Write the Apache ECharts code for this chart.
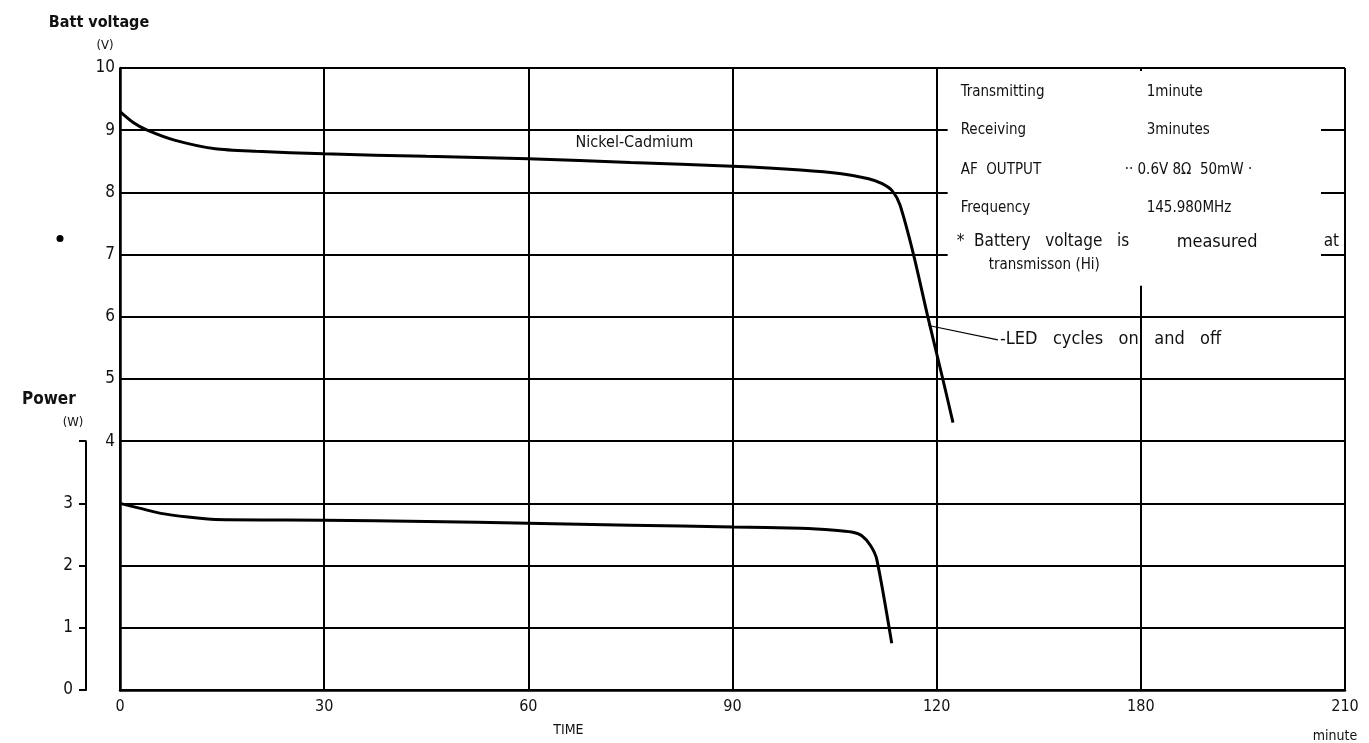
<!DOCTYPE html>
<html>
<head>
<meta charset="utf-8">
<style>
  html, body { margin: 0; padding: 0; background: #fff; }
  #chart { width: 1369px; height: 743px; }
</style>
<script src="https://cdn.jsdelivr.net/npm/echarts@6/dist/echarts.min.js"></script>
</head>
<body>
<div id="chart"></div>
<script>
const FONT = "'DejaVu Sans Condensed', 'DejaVu Sans', sans-serif";

// ticks are evenly spaced, the sheet prints 180/210 for the last two
const TIME_TICKS = [0, 30, 60, 90, 120, 150, 180];
const TIME_LABELS = ['0', '30', '60', '90', '120', '180', '210'];

// Nickel-Cadmium battery voltage (V) vs time (minute)
const voltTime  = [0, 2, 4, 8, 14, 20, 30, 45, 60, 75, 90, 100, 106, 110, 112, 113.5, 114.6, 116.6, 118.7, 120.9, 122.4];
const voltValue = [9.3, 9.12, 9.0, 8.84, 8.7, 8.66, 8.62, 8.58, 8.54, 8.48, 8.42, 8.36, 8.3, 8.22, 8.14, 8.02, 7.8, 7.0, 6.0, 5.0, 4.3];

// output power (W) vs time (minute)
const powerTime  = [0, 3, 6, 10, 14, 30, 45, 60, 75, 90, 100, 105, 107.5, 109, 110.3, 111.2, 113.4];
const powerValue = [3.0, 2.92, 2.84, 2.78, 2.74, 2.73, 2.71, 2.68, 2.65, 2.62, 2.6, 2.57, 2.54, 2.48, 2.32, 2.1, 0.75];

const INFO_KEYS = ['Transmitting', 'Receiving', 'AF  OUTPUT', 'Frequency'];
const INFO_VALS = ['1minute', '3minutes', '·· 0.6V 8Ω  50mW ·', '145.980MHz'];

const zip = (a, b) => a.map((x, i) => [x, b[i]]);

let chart = echarts.init(document.getElementById('chart'));

let option = {
  animation: false,
  backgroundColor: '#fff',
  grid: [
    { left: 120, right: 24, top: 68, bottom: 53 },
    // power scale shares the voltage scale: 0..4 of the same height
    { left: 120, right: 24, top: 441.2, bottom: 53 }
  ],
  xAxis: [
    {
      type: 'value',
      gridIndex: 0,
      min: 0,
      max: 180,
      interval: 30,
      axisLine: { show: true, onZero: false, lineStyle: { color: '#000', width: 2.5 } },
      axisTick: { show: false },
      axisLabel: {
        fontFamily: FONT, fontSize: 16, color: '#111', margin: 9,
        formatter: v => TIME_LABELS[TIME_TICKS.indexOf(v)] || ''
      },
      splitLine: { show: true, lineStyle: { color: '#000', width: 2 } }
    },
    { type: 'value', gridIndex: 1, min: 0, max: 180, show: false }
  ],
  yAxis: [
    {
      type: 'value',
      gridIndex: 0,
      min: 0,
      max: 10,
      interval: 1,
      axisLine: { show: true, onZero: false, lineStyle: { color: '#000', width: 2.5 } },
      axisTick: { show: false },
      axisLabel: {
        fontFamily: FONT, fontSize: 17, color: '#111', margin: 5,
        formatter: v => (v >= 4 ? String(v) : '')
      },
      splitLine: { show: true, lineStyle: { color: '#000', width: 2 } }
    },
    {
      type: 'value',
      gridIndex: 1,
      min: 0,
      max: 4,
      interval: 1,
      offset: 34,
      axisLine: { show: true, onZero: false, lineStyle: { color: '#000', width: 2 } },
      axisTick: { show: true, length: 7, lineStyle: { color: '#000', width: 2 } },
      axisLabel: {
        fontFamily: FONT, fontSize: 17, color: '#111', margin: 13,
        formatter: v => (v < 4 ? String(v) : '')
      },
      splitLine: { show: false }
    }
  ],
  series: [
    {
      name: 'Battery voltage',
      type: 'line',
      xAxisIndex: 0,
      yAxisIndex: 0,
      data: zip(voltTime, voltValue),
      showSymbol: false,
      smooth: 0.25,
      lineStyle: { color: '#000', width: 3 },
      z: 5
    },
    {
      name: 'Power',
      type: 'line',
      xAxisIndex: 1,
      yAxisIndex: 1,
      data: zip(powerTime, powerValue),
      showSymbol: false,
      smooth: 0.25,
      lineStyle: { color: '#000', width: 3 },
      z: 5
    }
  ]
};
chart.setOption(option);

// annotations placed from the axes
const px = (t, v) => chart.convertToPixel({ gridIndex: 0 }, [t, v]);
const [bx0, by0] = px(120, 10);
const [bx1, by1] = px(180, 6);
const [ax0, ay0] = px(0, 0);
const txt = (x, y, s, extra) => ({
  type: 'text', x: x, y: y, z: 101,
  style: Object.assign({ text: s, fill: '#111', fontFamily: FONT, fontSize: 15, verticalAlign: 'middle' }, extra || {})
});

let graphics = [
  // info box hides the grid inside it, short stubs are left at the edges
  {
    type: 'rect', z: 100,
    shape: { x: bx0 + 11, y: by0 + 3, width: bx1 - 24 - (bx0 + 11), height: by1 - 31 - (by0 + 3) },
    style: { fill: '#fff' }
  }
];
const rowY = [24, 62, 102, 140];
INFO_KEYS.forEach((k, i) => {
  graphics.push(txt(bx0 + 24, by0 + rowY[i], k));
  graphics.push(txt(bx0 + (i === 2 ? 188 : 210), by0 + rowY[i], INFO_VALS[i]));
});
// the note line is widely spaced on the sheet
graphics.push(txt(bx0 + 20, by0 + 174, '*  Battery   voltage   is', { fontSize: 17 }));
graphics.push(txt(bx0 + 240, by0 + 174, 'measured', { fontSize: 18 }));
graphics.push(txt(bx1 - 6, by0 + 174, 'at', { fontSize: 17, align: 'right' }));
graphics.push(txt(bx0 + 52, by0 + 197, 'transmisson (Hi)', { fontSize: 15 }));

// Nickel-Cadmium label
const [nx, ny] = px(75, 8.8);
graphics.push(txt(nx + 4, ny, 'Nickel-Cadmium', { align: 'center', fontSize: 16 }));

// LED leader line and note
const [lx0, ly0] = px(118.8, 5.86);
const [lx1, ly1] = px(129, 5.63);
graphics.push({ type: 'line', z: 101, shape: { x1: lx0, y1: ly0, x2: lx1, y2: ly1 }, style: { stroke: '#000', lineWidth: 1.2 } });
graphics.push(txt(lx1 + 2, ly1, '-LED   cycles   on   and   off', { fontSize: 18 }));

// axis titles
graphics.push(txt(ax0 - 21, by0 - 45, 'Batt voltage', { align: 'center', fontWeight: 'bold', fontSize: 16 }));
graphics.push(txt(ax0 - 15, by0 - 22, '(V)', { align: 'center', fontSize: 13 }));
const [, py4] = px(0, 4);
graphics.push(txt(ax0 - 98, py4 - 42, 'Power', { align: 'left', fontWeight: 'bold', fontSize: 17 }));
graphics.push(txt(ax0 - 47, py4 - 19, '(W)', { align: 'center', fontSize: 13 }));
graphics.push(txt(px(65, 0)[0] + 6, ay0 + 40, 'TIME', { align: 'center', fontSize: 14 }));
graphics.push(txt(bx1 - 10, ay0 + 46, 'minute', { align: 'center', fontSize: 14 }));

// stray dot from the printed sheet
const [, py7] = px(0, 7);
graphics.push({ type: 'circle', z: 101, shape: { cx: ax0 - 60, cy: py7 - 16, r: 3.5 }, style: { fill: '#000' } });

chart.setOption({ graphic: graphics });
window.addEventListener('resize', () => { chart.resize(); });
</script>
</body>
</html>
